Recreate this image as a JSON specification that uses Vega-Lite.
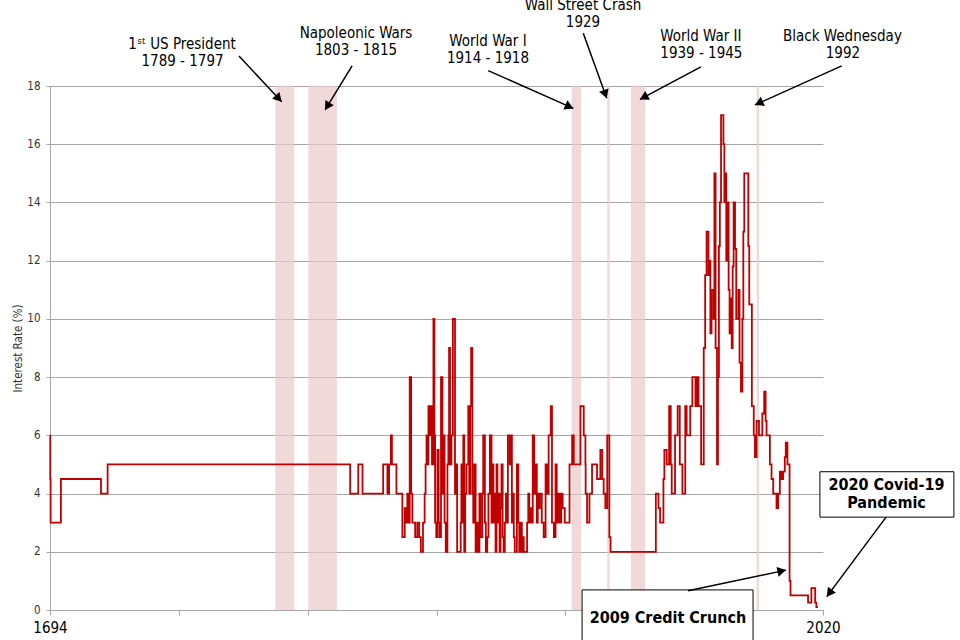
{
  "$schema": "https://vega.github.io/schema/vega-lite/v6.json",
  "width": 773,
  "height": 524,
  "autosize": {"type": "none"},
  "padding": {"left": 50, "top": 86, "right": 137, "bottom": 30},
  "background": "white",
  "config": {
    "view": {"stroke": null},
    "font": "DejaVu Sans Condensed",
    "text": {"font": "DejaVu Sans Condensed"}
  },
  "datasets": {
    "rates": [
      {"year": 1694.0, "rate": 6}, {"year": 1694.1, "rate": 4.5}, {"year": 1694.25, "rate": 3},
      {"year": 1698.6, "rate": 4.5}, {"year": 1715.5, "rate": 4}, {"year": 1718.3, "rate": 5},
      {"year": 1820.6, "rate": 4}, {"year": 1824.0, "rate": 5}, {"year": 1825.8, "rate": 4},
      {"year": 1834.5, "rate": 5}, {"year": 1836.3, "rate": 4}, {"year": 1837.0, "rate": 5},
      {"year": 1837.75, "rate": 6}, {"year": 1838.2, "rate": 5}, {"year": 1840.1, "rate": 4},
      {"year": 1842.6, "rate": 2.5}, {"year": 1843.6, "rate": 3.5}, {"year": 1844.0, "rate": 3},
      {"year": 1844.7, "rate": 4}, {"year": 1845.2, "rate": 3}, {"year": 1845.7, "rate": 8},
      {"year": 1846.3, "rate": 4}, {"year": 1846.8, "rate": 3}, {"year": 1848.0, "rate": 2.5},
      {"year": 1848.9, "rate": 3}, {"year": 1849.7, "rate": 2.5}, {"year": 1850.4, "rate": 2},
      {"year": 1851.3, "rate": 3}, {"year": 1852.0, "rate": 4}, {"year": 1852.4, "rate": 5},
      {"year": 1852.8, "rate": 6}, {"year": 1853.2, "rate": 5}, {"year": 1853.6, "rate": 7},
      {"year": 1854.3, "rate": 6}, {"year": 1854.7, "rate": 7}, {"year": 1855.1, "rate": 5},
      {"year": 1855.7, "rate": 10}, {"year": 1856.1, "rate": 6}, {"year": 1856.4, "rate": 3},
      {"year": 1856.9, "rate": 2.5}, {"year": 1857.4, "rate": 5.5}, {"year": 1857.9, "rate": 3},
      {"year": 1858.3, "rate": 2.5}, {"year": 1858.9, "rate": 8}, {"year": 1859.5, "rate": 4},
      {"year": 1860.0, "rate": 6}, {"year": 1860.4, "rate": 3}, {"year": 1860.9, "rate": 2},
      {"year": 1861.6, "rate": 5}, {"year": 1862.0, "rate": 6}, {"year": 1862.3, "rate": 9},
      {"year": 1862.7, "rate": 5}, {"year": 1863.3, "rate": 6}, {"year": 1863.9, "rate": 10},
      {"year": 1864.8, "rate": 4}, {"year": 1865.3, "rate": 5}, {"year": 1865.7, "rate": 2},
      {"year": 1867.2, "rate": 3}, {"year": 1867.5, "rate": 5}, {"year": 1867.9, "rate": 3},
      {"year": 1868.3, "rate": 6}, {"year": 1868.7, "rate": 2}, {"year": 1869.1, "rate": 4},
      {"year": 1869.6, "rate": 5}, {"year": 1870.4, "rate": 7}, {"year": 1870.8, "rate": 4},
      {"year": 1871.2, "rate": 7}, {"year": 1871.6, "rate": 9}, {"year": 1872.1, "rate": 4},
      {"year": 1872.5, "rate": 3}, {"year": 1872.9, "rate": 5}, {"year": 1873.5, "rate": 2},
      {"year": 1874.1, "rate": 3}, {"year": 1874.5, "rate": 2}, {"year": 1875.1, "rate": 4},
      {"year": 1875.5, "rate": 2.5}, {"year": 1876.3, "rate": 4}, {"year": 1876.7, "rate": 6},
      {"year": 1877.4, "rate": 3}, {"year": 1877.8, "rate": 2}, {"year": 1878.4, "rate": 2.5},
      {"year": 1878.9, "rate": 4}, {"year": 1879.5, "rate": 6}, {"year": 1880.2, "rate": 3},
      {"year": 1880.6, "rate": 5}, {"year": 1881.0, "rate": 3}, {"year": 1881.5, "rate": 4},
      {"year": 1881.9, "rate": 2}, {"year": 1882.3, "rate": 5}, {"year": 1882.7, "rate": 3},
      {"year": 1883.2, "rate": 4}, {"year": 1883.6, "rate": 2}, {"year": 1884.0, "rate": 3.5},
      {"year": 1884.4, "rate": 5}, {"year": 1884.9, "rate": 2.5}, {"year": 1885.3, "rate": 2},
      {"year": 1885.8, "rate": 3}, {"year": 1886.3, "rate": 4}, {"year": 1886.7, "rate": 3},
      {"year": 1887.1, "rate": 6}, {"year": 1887.9, "rate": 5}, {"year": 1888.4, "rate": 6},
      {"year": 1888.8, "rate": 3}, {"year": 1889.2, "rate": 4}, {"year": 1889.6, "rate": 2.5},
      {"year": 1890.0, "rate": 2}, {"year": 1890.9, "rate": 5}, {"year": 1891.5, "rate": 3},
      {"year": 1891.9, "rate": 2}, {"year": 1892.6, "rate": 3}, {"year": 1893.0, "rate": 2},
      {"year": 1893.4, "rate": 2.5}, {"year": 1893.8, "rate": 2}, {"year": 1895.2, "rate": 3},
      {"year": 1895.7, "rate": 4}, {"year": 1896.1, "rate": 3}, {"year": 1896.6, "rate": 3.5},
      {"year": 1897.2, "rate": 3}, {"year": 1897.6, "rate": 6}, {"year": 1898.2, "rate": 4},
      {"year": 1898.8, "rate": 5}, {"year": 1899.3, "rate": 3}, {"year": 1899.7, "rate": 4},
      {"year": 1900.1, "rate": 3.5}, {"year": 1900.6, "rate": 4}, {"year": 1901.4, "rate": 3},
      {"year": 1902.2, "rate": 2.5}, {"year": 1903.0, "rate": 5}, {"year": 1903.7, "rate": 4},
      {"year": 1904.3, "rate": 6}, {"year": 1905.2, "rate": 7}, {"year": 1905.7, "rate": 3},
      {"year": 1906.5, "rate": 2.5}, {"year": 1907.2, "rate": 5}, {"year": 1907.7, "rate": 3},
      {"year": 1908.4, "rate": 4}, {"year": 1909.0, "rate": 3}, {"year": 1909.6, "rate": 4},
      {"year": 1910.2, "rate": 3.5}, {"year": 1911.1, "rate": 3}, {"year": 1913.1, "rate": 5},
      {"year": 1914.2, "rate": 6}, {"year": 1914.9, "rate": 5}, {"year": 1917.7, "rate": 7},
      {"year": 1919.1, "rate": 6}, {"year": 1919.8, "rate": 5}, {"year": 1919.9, "rate": 4},
      {"year": 1920.5, "rate": 3}, {"year": 1921.5, "rate": 4}, {"year": 1922.6, "rate": 5},
      {"year": 1924.7, "rate": 4.5}, {"year": 1926.1, "rate": 5.5}, {"year": 1926.9, "rate": 4.5},
      {"year": 1927.5, "rate": 4}, {"year": 1928.2, "rate": 3.5}, {"year": 1929.0, "rate": 6},
      {"year": 1929.9, "rate": 2.5}, {"year": 1930.4, "rate": 2}, {"year": 1949.5, "rate": 4},
      {"year": 1950.6, "rate": 3.5}, {"year": 1951.3, "rate": 3}, {"year": 1952.7, "rate": 4.5},
      {"year": 1953.1, "rate": 5.5}, {"year": 1954.1, "rate": 5}, {"year": 1955.1, "rate": 7},
      {"year": 1955.8, "rate": 5}, {"year": 1956.2, "rate": 4}, {"year": 1957.6, "rate": 6},
      {"year": 1958.7, "rate": 7}, {"year": 1959.6, "rate": 5}, {"year": 1960.7, "rate": 4},
      {"year": 1961.9, "rate": 7}, {"year": 1962.5, "rate": 6}, {"year": 1964.0, "rate": 7},
      {"year": 1964.9, "rate": 8}, {"year": 1966.2, "rate": 7}, {"year": 1966.9, "rate": 8},
      {"year": 1967.5, "rate": 7}, {"year": 1968.6, "rate": 5}, {"year": 1969.7, "rate": 9},
      {"year": 1970.3, "rate": 11.5}, {"year": 1970.9, "rate": 13}, {"year": 1971.7, "rate": 11.5},
      {"year": 1972.1, "rate": 12}, {"year": 1972.5, "rate": 9.5}, {"year": 1973.0, "rate": 11},
      {"year": 1973.8, "rate": 10}, {"year": 1974.2, "rate": 15}, {"year": 1974.7, "rate": 9},
      {"year": 1975.3, "rate": 5}, {"year": 1975.7, "rate": 8}, {"year": 1976.1, "rate": 12.5},
      {"year": 1976.5, "rate": 14}, {"year": 1977.0, "rate": 17}, {"year": 1978.0, "rate": 16},
      {"year": 1978.4, "rate": 14}, {"year": 1978.8, "rate": 15}, {"year": 1979.2, "rate": 12},
      {"year": 1979.8, "rate": 14}, {"year": 1980.2, "rate": 11}, {"year": 1980.6, "rate": 9.5},
      {"year": 1981.0, "rate": 10.7}, {"year": 1981.5, "rate": 9}, {"year": 1981.9, "rate": 11.8},
      {"year": 1982.3, "rate": 14}, {"year": 1982.9, "rate": 12.4}, {"year": 1983.4, "rate": 10},
      {"year": 1984.3, "rate": 11}, {"year": 1984.8, "rate": 8.5}, {"year": 1985.4, "rate": 7.5},
      {"year": 1986.0, "rate": 10}, {"year": 1986.4, "rate": 13}, {"year": 1986.8, "rate": 15},
      {"year": 1988.5, "rate": 12.5}, {"year": 1988.9, "rate": 10.5}, {"year": 1990.0, "rate": 7},
      {"year": 1990.8, "rate": 6}, {"year": 1991.3, "rate": 5.25}, {"year": 1992.0, "rate": 6.5},
      {"year": 1993.0, "rate": 6}, {"year": 1994.4, "rate": 6.75}, {"year": 1995.2, "rate": 7.5},
      {"year": 1995.8, "rate": 6.5}, {"year": 1996.2, "rate": 6}, {"year": 1997.6, "rate": 5},
      {"year": 1998.3, "rate": 4.5}, {"year": 1999.0, "rate": 4}, {"year": 2000.4, "rate": 3.5},
      {"year": 2001.1, "rate": 4}, {"year": 2001.8, "rate": 4.75}, {"year": 2002.5, "rate": 4.5},
      {"year": 2003.2, "rate": 4.75}, {"year": 2003.9, "rate": 5.25}, {"year": 2004.3, "rate": 5.75},
      {"year": 2005.0, "rate": 5}, {"year": 2005.9, "rate": 1}, {"year": 2006.3, "rate": 0.5},
      {"year": 2013.7, "rate": 0.25}, {"year": 2015.1, "rate": 0.75}, {"year": 2016.7, "rate": 0.25},
      {"year": 2017.2, "rate": 0.1}, {"year": 2017.9, "rate": 0.1}
    ],
    "periods": [
      {"start": 1789, "end": 1797},
      {"start": 1803, "end": 1815},
      {"start": 1914, "end": 1918},
      {"start": 1929, "end": 1930},
      {"start": 1939, "end": 1945},
      {"start": 1992, "end": 1993}
    ],
    "arrows": [
      {"fromYear": 1773.7, "fromRate": 19.03, "toYear": 1791.7, "toRate": 17.46},
      {"fromYear": 1821.4, "fromRate": 18.69, "toYear": 1810.0, "toRate": 17.18},
      {"fromYear": 1878.8, "fromRate": 18.53, "toYear": 1914.7, "toRate": 17.23},
      {"fromYear": 1918.9, "fromRate": 19.81, "toYear": 1928.8, "toRate": 17.58},
      {"fromYear": 1968.5, "fromRate": 18.66, "toYear": 1942.8, "toRate": 17.54},
      {"fromYear": 2027.9, "fromRate": 18.69, "toYear": 1991.3, "toRate": 17.35},
      {"fromYear": 1963.1, "fromRate": 0.66, "toYear": 2004.4, "toRate": 1.37},
      {"fromYear": 2046.6, "fromRate": 3.19, "toYear": 2021.6, "toRate": 0.46}
    ],
    "events": [
      {"year": 1749.7, "rate": 19.45, "text": "1ˢᵗ US President"},
      {"year": 1749.9, "rate": 18.86, "text": "1789 - 1797"},
      {"year": 1823.05, "rate": 19.82, "text": "Napoleonic Wars"},
      {"year": 1823.05, "rate": 19.23, "text": "1803 - 1815"},
      {"year": 1878.7, "rate": 19.56, "text": "World War I"},
      {"year": 1878.7, "rate": 18.97, "text": "1914 - 1918"},
      {"year": 1918.8, "rate": 20.78, "text": "Wall Street Crash"},
      {"year": 1918.8, "rate": 20.2, "text": "1929"},
      {"year": 1968.5, "rate": 19.71, "text": "World War II"},
      {"year": 1968.7, "rate": 19.12, "text": "1939 - 1945"},
      {"year": 2028.2, "rate": 19.71, "text": "Black Wednesday"},
      {"year": 2028.4, "rate": 19.12, "text": "1992"}
    ],
    "boxes": [
      {"left": 1918.4, "right": 1990.5, "top": 0.69, "bottom": -1.8},
      {"left": 2018.7, "right": 2075.2, "top": 4.75, "bottom": 3.19}
    ],
    "boxText": [
      {"year": 1954.6, "rate": -0.27, "text": "2009 Credit Crunch"},
      {"year": 2046.8, "rate": 4.29, "text": "2020 Covid-19"},
      {"year": 2046.8, "rate": 3.66, "text": "Pandemic"}
    ]
  },
  "layer": [
    {
      "data": {"name": "periods"},
      "mark": {"type": "rect", "color": "#ecc9c9", "opacity": 0.7},
      "encoding": {
        "x": {
          "field": "start", "type": "quantitative", "title": null,
          "scale": {"domain": [1694, 2020], "nice": false, "zero": false},
          "axis": {
            "title": null,
            "values": [1694, 1748.3333, 1802.6667, 1857, 1911.3333, 1965.6667, 2020],
            "labelExpr": "datum.value == 1694 || datum.value == 2020 ? format(datum.value, 'd') : ''",
            "labelOverlap": false,
            "labelFlush": false,
            "labelFontSize": 15,
            "labelColor": "#000000",
            "labelPadding": 5,
            "grid": false,
            "domainColor": "#a6a6a6",
            "tickColor": "#a6a6a6",
            "tickSize": 5
          }
        },
        "x2": {"field": "end"},
        "y": {
          "datum": 0, "type": "quantitative", "title": "Interest Rate (%)",
          "scale": {"domain": [0, 18], "nice": false, "zero": true},
          "axis": {
            "title": "Interest Rate (%)",
            "titleFontSize": 11.5,
            "titleFontWeight": "normal",
            "titleColor": "#333333",
            "titlePadding": 3,
            "values": [0, 2, 4, 6, 8, 10, 12, 14, 16, 18],
            "labelFontSize": 11.5,
            "labelColor": "#333333",
            "labelPadding": 6,
            "grid": true,
            "gridColor": "#a6a6a6",
            "gridOpacity": 1,
            "gridWidth": 1,
            "domainColor": "#a6a6a6",
            "tickColor": "#a6a6a6",
            "tickSize": 4
          }
        },
        "y2": {"datum": 18}
      }
    },
    {
      "data": {"name": "rates"},
      "mark": {"type": "line", "interpolate": "step-after", "color": "#c00000", "strokeWidth": 1.8},
      "encoding": {
        "x": {"field": "year", "type": "quantitative", "title": null},
        "y": {"field": "rate", "type": "quantitative", "title": "Interest Rate (%)"}
      }
    },
    {
      "data": {"name": "boxes"},
      "mark": {"type": "rect", "fill": "white", "stroke": "#000000", "strokeWidth": 1},
      "encoding": {
        "x": {"field": "left", "type": "quantitative", "title": null},
        "x2": {"field": "right"},
        "y": {"field": "top", "type": "quantitative", "title": "Interest Rate (%)"},
        "y2": {"field": "bottom"}
      }
    },
    {
      "data": {"name": "arrows"},
      "mark": {"type": "rule", "color": "#000000", "strokeWidth": 1.5},
      "encoding": {
        "x": {"field": "fromYear", "type": "quantitative", "title": null},
        "y": {"field": "fromRate", "type": "quantitative", "title": "Interest Rate (%)"},
        "x2": {"field": "toYear"},
        "y2": {"field": "toRate"}
      }
    },
    {
      "data": {"name": "arrows"},
      "transform": [
        {"calculate": "atan2((datum.toYear - datum.fromYear) * 773 / 326, (datum.toRate - datum.fromRate) * 524 / 18) * 180 / PI", "as": "heading"},
        {"calculate": "datum.toYear - 4.3 * sin(datum.heading * PI / 180) * 326 / 773", "as": "headYear"},
        {"calculate": "datum.toRate - 4.3 * cos(datum.heading * PI / 180) * 18 / 524", "as": "headRate"}
      ],
      "mark": {"type": "point", "shape": "triangle-up", "filled": true, "color": "#000000", "opacity": 1, "size": 100},
      "encoding": {
        "x": {"field": "headYear", "type": "quantitative", "title": null},
        "y": {"field": "headRate", "type": "quantitative", "title": "Interest Rate (%)"},
        "angle": {"field": "heading", "type": "quantitative", "scale": null}
      }
    },
    {
      "data": {"name": "events"},
      "mark": {"type": "text", "fontSize": 15, "color": "#000000", "align": "center", "baseline": "middle"},
      "encoding": {
        "x": {"field": "year", "type": "quantitative", "title": null},
        "y": {"field": "rate", "type": "quantitative", "title": "Interest Rate (%)"},
        "text": {"field": "text"}
      }
    },
    {
      "data": {"name": "boxText"},
      "mark": {"type": "text", "fontSize": 16, "fontWeight": "bold", "color": "#000000", "align": "center", "baseline": "middle"},
      "encoding": {
        "x": {"field": "year", "type": "quantitative", "title": null},
        "y": {"field": "rate", "type": "quantitative", "title": "Interest Rate (%)"},
        "text": {"field": "text"}
      }
    }
  ]
}
